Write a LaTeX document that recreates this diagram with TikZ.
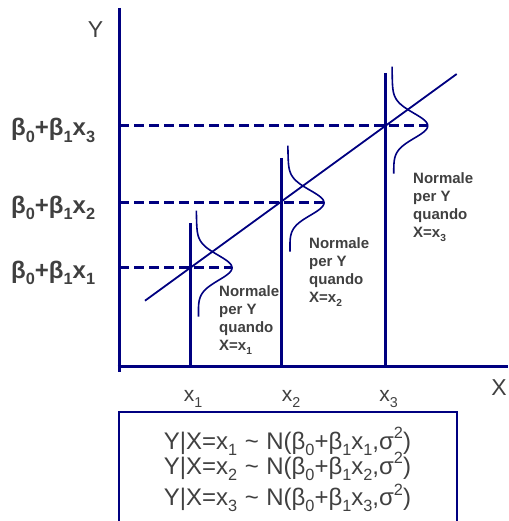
\documentclass[tikz,border=0pt]{standalone}
\usepackage{fontspec}
\usepackage{graphicx}
\setmainfont{Liberation Sans}
\definecolor{navy}{RGB}{0,0,128}
\definecolor{txtgray}{RGB}{64,64,64}
\newcommand{\subs}[1]{\raisebox{-0.27em}{\scalebox{0.68}{#1}}}
\newcommand{\sups}[1]{\raisebox{0.42em}{\scalebox{0.68}{#1}}}
\newcommand{\tld}{\hspace{7.5pt}\textasciitilde\hspace{7.5pt}}
\tikzset{
  axis/.style={draw=navy, line width=3pt},
  vline/.style={draw=navy, line width=3pt},
  regline/.style={draw=navy, line width=1.8pt},
  curve/.style={draw=navy, line width=1.6pt},
  dashline/.style={draw=navy, line width=2.8pt, dash pattern=on 10pt off 5pt},
  frame/.style={draw=navy, line width=2pt},
  ylab/.style={text=txtgray, font=\bfseries\fontsize{24}{28}\selectfont, inner sep=0pt, anchor=base west},
  tick/.style={text=txtgray, font=\fontsize{21}{24}\selectfont, inner sep=0pt, anchor=base},
  normlab/.style={text=txtgray, font=\bfseries\fontsize{15}{18}\selectfont, inner sep=0pt, align=left, anchor=north west},
  boxtxt/.style={text=txtgray, font=\fontsize{24}{26}\selectfont, inner sep=0pt, anchor=base},
  axlab/.style={text=txtgray, font=\fontsize{23}{26}\selectfont, inner sep=0pt, anchor=base}
}
\begin{document}
\begin{tikzpicture}[x=1pt,y=-1pt]
\useasboundingbox (0,0) rectangle (508,521);
% key points
\coordinate (ytop) at (119,8);
\coordinate (ybot) at (119,372);
\coordinate (xl) at (117.5,366);
\coordinate (xr) at (508,366);
\coordinate (v1t) at (190.7,223);
\coordinate (v1b) at (190.7,366);
\coordinate (v2t) at (281.7,158);
\coordinate (v2b) at (281.7,366);
\coordinate (v3t) at (385.7,73);
\coordinate (v3b) at (385.7,366);
\coordinate (r1) at (145,300.7);
\coordinate (r2) at (456.7,74);
\coordinate (d1a) at (119,267.7);
\coordinate (d1b) at (232,267.7);
\coordinate (d2a) at (119,202.7);
\coordinate (d2b) at (324,202.7);
\coordinate (d3a) at (119,125.7);
\coordinate (d3b) at (427.7,125.7);
% frame box
\draw[frame] (118.5,411.7) rectangle (457,522);
% axes
\draw[axis] (ytop) -- (ybot);
\draw[axis] (xl) -- (xr);
% dashed levels
\draw[dashline] (d1a) -- (d1b);
\draw[dashline] (d2a) -- (d2b);
\draw[dashline] (d3a) -- (d3b);
% verticals
\draw[vline] (v1t) -- (v1b);
\draw[vline] (v2t) -- (v2b);
\draw[vline] (v3t) -- (v3b);
% regression line
\draw[regline] (r1) -- (r2);
% normal curves
\draw[curve] plot[domain=-57:49, samples=120, variable=\t] ({197.5+0.02*\t+34.5*exp(-(\t*\t)/312.5)}, {267.7+\t});
\draw[curve] plot[domain=-57:49, samples=120, variable=\t] ({289+0.02*\t+35*exp(-(\t*\t)/312.5)}, {202.7+\t});
\draw[curve] plot[domain=-59:48, samples=120, variable=\t] ({393+0.016*\t+34.7*exp(-(\t*\t)/312.5)}, {125.7+\t});
% axis labels
\node[axlab] (Ylab) at (95.5,37.3) {Y};
\node[axlab] (Xlab) at (499,395) {X};
% level labels
\node[ylab] (b3) at (11,136) {β\subs{0}+β\subs{1}x\subs{3}};
\node[ylab] (b2) at (11,213) {β\subs{0}+β\subs{1}x\subs{2}};
\node[ylab] (b1) at (11,278) {β\subs{0}+β\subs{1}x\subs{1}};
% tick labels
\node[tick] (t1) at (193,401.7) {x\subs{1}};
\node[tick] (t2) at (291,401.7) {x\subs{2}};
\node[tick] (t3) at (388.7,401.7) {x\subs{3}};
% normal labels
\node[normlab] (n1) at (219,285.5) {Normale\\per Y\\quando\\X=x\subs{1}};
\node[normlab] (n2) at (309,237) {Normale\\per Y\\quando\\X=x\subs{2}};
\node[normlab] (n3) at (413,172.3) {Normale\\per Y\\quando\\X=x\subs{3}};
% box text
\node[boxtxt] (e1) at (287.5,449) {Y|X=x\subs{1}\tld N(β\subs{0}+β\subs{1}x\subs{1},σ\sups{2})};
\node[boxtxt] (e2) at (287.5,474) {Y|X=x\subs{2}\tld N(β\subs{0}+β\subs{1}x\subs{2},σ\sups{2})};
\node[boxtxt] (e3) at (287.5,505.5) {Y|X=x\subs{3}\tld N(β\subs{0}+β\subs{1}x\subs{3},σ\sups{2})};
\end{tikzpicture}
\end{document}
